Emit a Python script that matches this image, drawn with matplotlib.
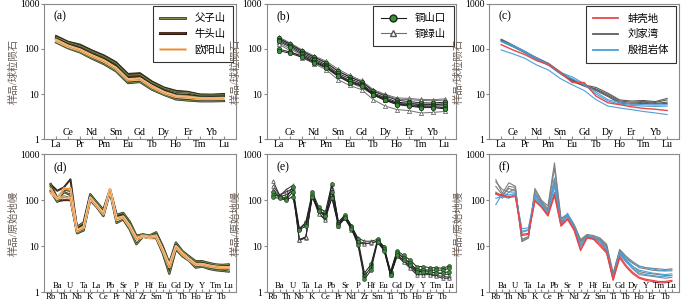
import matplotlib
matplotlib.use('Agg')
import matplotlib.pyplot as plt
import matplotlib.patheffects as pe
from matplotlib.lines import Line2D
from matplotlib.ticker import NullLocator

plt.rcParams['font.family'] = ['Liberation Serif', 'Noto Sans CJK SC']
plt.rcParams['axes.unicode_minus'] = False

ree = ['La', 'Ce', 'Pr', 'Nd', 'Pm', 'Sm', 'Eu', 'Gd', 'Tb', 'Dy', 'Ho', 'Er', 'Tm', 'Yb', 'Lu']
spider = ['Rb', 'Ba', 'Th', 'U', 'Nb', 'Ta', 'K', 'La', 'Ce', 'Pb', 'Pr', 'Sr', 'Nd', 'P',
          'Zr', 'Hf', 'Sm', 'Eu', 'Ti', 'Gd', 'Tb', 'Dy', 'Ho', 'Y', 'Er', 'Tm', 'Tb', 'Lu']

# (a) chondrite normalised REE
fzs_ree = [[185, 140, 118, 88, 68, 48, 26, 27, 18, 13.5, 11.2, 10.8, 9.5, 9.5, 9.6],
           [165, 122, 100, 75, 58, 40, 22, 23, 15.5, 11.5, 9.5, 9.2, 8.5, 8.4, 8.6],
           [140, 104, 84, 61, 46, 32, 17.5, 18.5, 12.5, 9.6, 7.6, 7.2, 6.9, 6.9, 7.0]]
nts_ree = [[195, 145, 125, 93, 72, 51, 28, 29, 19, 14, 11.8, 11.2, 9.8, 9.7, 10],
           [172, 128, 106, 79, 61, 43, 24, 25, 16.5, 12.2, 9.9, 9.6, 8.8, 8.7, 8.9],
           [150, 110, 90, 65, 49, 34, 18.5, 19.5, 13, 10, 8, 7.6, 7.1, 7.1, 7.3]]
oys_ree = [[160, 118, 97, 72, 55, 38, 21, 22, 15, 11, 9, 8.6, 8, 8, 8.1],
           [150, 112, 92, 68, 52, 36, 20, 21, 14, 10.5, 8.6, 8.2, 7.7, 7.7, 7.8]]

# (b)
tsk_ree = [[175, 128, 90, 66, 50, 32, 24, 18.5, 11.5, 9.0, 7.3, 6.8, 6.4, 6.3, 6.6],
           [160, 118, 82, 60, 45, 29, 22, 17, 10.5, 8.3, 6.6, 6.2, 5.8, 5.8, 6.0],
           [150, 110, 76, 56, 42, 27, 20, 16, 10, 7.8, 6.2, 5.8, 5.5, 5.4, 5.5],
           [100, 85, 70, 52, 40, 26, 19, 15.5, 9.8, 7.5, 6.0, 5.6, 5.2, 5.2, 5.0],
           [92, 80, 65, 50, 38, 25, 18, 15, 9.5, 7.2, 5.8, 5.4, 5.0, 5.0, 4.7]]
tls_ree = [[185, 135, 95, 70, 54, 36, 26, 20, 12.5, 9.8, 8.2, 8.0, 7.6, 7.5, 7.8],
           [170, 125, 88, 64, 49, 33, 24, 19, 12, 9.5, 7.7, 7.5, 7.2, 7.1, 7.3],
           [140, 100, 72, 52, 40, 25, 18, 14, 9.5, 7.3, 6.4, 6.2, 6.0, 5.9, 6.1],
           [130, 90, 64, 47, 35, 21, 15.5, 12.5, 7.5, 5.4, 4.5, 4.3, 3.8, 3.9, 4.1]]

# (c)
bkd_ree = [[125, 95, 75, 55, 45, 30, 18, 18, 9, 6.4, 5.8, 5.2, 4.8, 4.6, 4.3]]
ljw_ree = [[165, 122, 88, 64, 48, 31, 21, 16, 14, 10.5, 7.4, 7.0, 7.2, 6.8, 8.0],
           [160, 118, 86, 62, 46, 30, 20, 15.5, 13, 9.8, 7.0, 6.6, 6.8, 6.5, 7.4],
           [155, 115, 84, 60, 45, 29, 20, 16, 12.5, 9.2, 6.6, 6.2, 6.6, 6.2, 6.6],
           [150, 112, 82, 58, 44, 28, 19, 15, 12, 8.8, 6.3, 6.0, 6.2, 6.0, 6.2]]
yz_ree = [[150, 120, 90, 62, 46, 30, 24, 17, 11, 7.5, 6.5, 6.0, 5.8, 5.7, 5.8],
          [145, 112, 85, 58, 43, 28, 22, 16, 10, 7.0, 6.0, 5.6, 5.4, 5.3, 5.4],
          [95, 78, 62, 44, 34, 22, 16, 12, 7.5, 5.4, 4.9, 4.5, 4.1, 3.8, 3.5]]

# (d) primitive mantle normalised
fzs_sp = [[225, 110, 170, 160, 26, 33, 135, 90, 62, 175, 48, 53, 34, 17, 18, 17, 20, 10, 4.3, 12, 7.8, 6.0, 4.7, 4.7, 4.3, 4.0, 3.9, 4.0],
          [200, 100, 150, 130, 23, 28, 120, 80, 55, 160, 42, 46, 30, 15, 17, 16, 18, 9, 3.5, 10.5, 7.0, 5.4, 4.2, 4.2, 3.8, 3.6, 3.5, 3.5],
          [160, 92, 120, 110, 19, 22, 100, 70, 45, 150, 32, 38, 23, 11, 16, 15, 15, 7, 2.5, 8.5, 6.0, 4.8, 3.4, 3.6, 3.2, 3.0, 2.9, 2.8]]
nts_sp = [[220, 160, 190, 285, 24, 30, 125, 85, 58, 170, 45, 50, 31, 16, 18, 16, 19, 9.5, 4.0, 11.5, 7.5, 5.8, 4.5, 4.5, 4.2, 3.9, 3.8, 3.9],
          [150, 95, 100, 100, 20, 24, 110, 75, 50, 160, 38, 42, 27, 14, 16, 15, 16, 8, 3.2, 9.5, 6.6, 5.1, 3.8, 3.9, 3.5, 3.3, 3.2, 3.2]]
oys_sp = [[175, 105, 180, 180, 22, 26, 115, 78, 52, 175, 40, 44, 28, 15, 17, 16, 17, 8.5, 3.8, 10, 7.0, 5.3, 4.1, 4.1, 3.8, 3.6, 3.5, 3.5],
          [140, 110, 115, 110, 21, 25, 108, 74, 50, 165, 37, 42, 26, 14, 16, 15, 16, 8, 3.5, 9.5, 6.6, 5.0, 3.9, 3.9, 3.6, 3.4, 3.3, 3.3]]

# (e)
tsk_sp = [[150, 115, 110, 195, 24, 33, 150, 70, 55, 230, 33, 48, 28, 14, 2.6, 4.0, 14, 9.5, 2.8, 8, 6.3, 5.0, 3.6, 3.6, 3.4, 3.4, 3.3, 3.7],
          [130, 120, 105, 150, 24, 30, 130, 62, 48, 150, 30, 44, 26, 12, 2.2, 3.5, 13, 8.5, 2.5, 7, 5.5, 4.2, 3.0, 3.1, 3.0, 3.0, 3.0, 3.3],
          [115, 110, 100, 120, 23, 27, 115, 58, 45, 110, 28, 40, 24, 10.5, 1.9, 3.0, 12, 8, 2.3, 6.3, 5.0, 3.8, 2.8, 2.8, 2.7, 2.6, 2.6, 2.8]]
tls_sp = [[260, 125, 170, 210, 14, 16, 140, 60, 42, 220, 33, 46, 27, 15, 12.8, 12.8, 14, 9.8, 2.7, 7.5, 5.5, 4.3, 3.0, 3.0, 2.8, 2.6, 2.5, 2.4],
          [200, 130, 150, 180, 13.5, 15, 130, 52, 38, 180, 30, 42, 25, 13, 11.5, 11.5, 13, 9, 2.5, 6.5, 4.8, 3.6, 2.6, 2.6, 2.5, 2.3, 2.2, 2.1],
          [170, 120, 130, 160, 13.5, 15.5, 120, 50, 37, 120, 28, 40, 23, 12, 11, 12, 12.5, 8.5, 2.3, 6, 4.5, 3.3, 2.4, 2.4, 2.4, 2.2, 2.0, 2.0]]

# (f)
bkd_sp = [[140, 130, 120, 125, 17, 18, 95, 70, 45, 125, 27, 38, 22, 8, 15, 14, 10, 7, 1.8, 5.5, 3.5, 2.5, 2.0, 1.8, 1.7, 1.6, 1.6, 1.7],
          [135, 125, 115, 120, 18, 19, 100, 72, 47, 140, 29, 40, 24, 8.5, 15.5, 14.5, 11, 7.5, 1.9, 6, 3.8, 2.7, 2.1, 1.9, 1.8, 1.7, 1.7, 1.8]]
ljw_sp = [[280, 140, 240, 200, 13, 15, 180, 100, 75, 650, 40, 50, 30, 14, 18, 17, 15, 11, 2.6, 8.5, 6, 4.6, 3.7, 3.4, 3.3, 3.2, 3.1, 3.2],
          [250, 170, 150, 180, 14, 16, 160, 95, 65, 500, 38, 48, 29, 13, 17, 16, 14, 10, 2.4, 8, 5.6, 4.3, 3.4, 3.2, 3.0, 2.9, 2.9, 2.9],
          [200, 130, 180, 160, 12.5, 15, 140, 90, 60, 300, 35, 45, 28, 13, 17, 16, 14, 10, 2.3, 7.5, 5.0, 3.6, 2.8, 2.6, 2.5, 2.4, 2.3, 2.3],
          [150, 120, 200, 190, 14, 16, 130, 85, 55, 250, 33, 44, 26, 12, 16, 15, 13, 9.5, 2.2, 7, 4.6, 3.2, 2.4, 2.3, 2.2, 2.1, 2.0, 2.1]]
yz_sp = [[80, 140, 130, 140, 24, 25, 130, 85, 52, 300, 30, 52, 28, 11, 16, 16, 13, 8.5, 2.0, 7.5, 5.3, 4.2, 3.6, 3.4, 3.2, 3.0, 2.9, 3.1],
         [140, 110, 150, 150, 21, 23, 115, 80, 48, 200, 29, 48, 27, 10, 16, 15, 13, 8, 2.0, 6.8, 4.8, 3.6, 3.0, 2.8, 2.6, 2.5, 2.4, 2.5],
         [110, 120, 110, 140, 20, 22, 110, 78, 47, 150, 30, 46, 26, 10, 15, 15, 12, 8, 1.9, 6.5, 4.5, 3.3, 2.6, 2.4, 2.3, 2.2, 2.2, 2.3]]

names_a = ['父子山', '牛头山', '欧阳山']
names_b = ['铜山口', '铜绿山']
names_c = ['蚌壳地', '刘家湾', '殷祖岩体']

GREY_TXT = '#6b5e55'
SPINE = '#8a8a8a'

# line styles (outline colour, inner colour)
fzs_style = ('#2b2e1c', '#7a8c48')
nts_style = ('#2a1a10', '#5a3a26')
oys_style = ('#f9d2ae', '#ee8a2e')
red, grey, blue = '#e8474a', '#5e5e5e', '#4a9fd8'


def setup(ax, labels, ylabel, tag, fs):
    n = len(labels)
    ax.set_yscale('log')
    ax.set_ylim(1, 1000)
    ax.set_xlim(-1, n + 0.1 if n > 20 else n)
    ax.set_yticks([1, 10, 100, 1000])
    ax.set_yticklabels(['1', '10', '100', '1000'])
    ax.yaxis.set_minor_locator(NullLocator())
    ax.set_xticks(range(n))
    ax.set_xticklabels([lab if i % 2 == 0 else '' for i, lab in enumerate(labels)])
    for i, lab in enumerate(labels):
        if i % 2 == 1:
            ax.text(i, 0.012, lab, transform=ax.get_xaxis_transform(),
                    ha='center', va='bottom', fontsize=fs)
    ax.tick_params(axis='x', direction='in', length=2, pad=1, labelsize=fs, color=SPINE)
    ax.tick_params(axis='y', direction='out', length=2.5, pad=1, labelsize=7, color=SPINE)
    for s in ax.spines.values():
        s.set_color(SPINE)
        s.set_linewidth(0.8)
    ax.set_ylabel(ylabel, color=GREY_TXT, fontsize=7.5, labelpad=1)
    ax.text(0.05, 0.95, tag, transform=ax.transAxes, va='top', ha='left', fontsize=8.5)


def outlined(ax, x, rows, style, lw=0.7):
    for r in rows:
        ax.plot(x, r, color=style[1], lw=lw,
                path_effects=[pe.Stroke(linewidth=lw + 0.9, foreground=style[0]), pe.Normal()])


def outlined_handle(style, lw=1.0):
    return Line2D([], [], color=style[1], lw=lw,
                  path_effects=[pe.Stroke(linewidth=lw + 1.0, foreground=style[0]), pe.Normal()])


fig = plt.figure(figsize=(7, 3.03), dpi=100)
ax_a = fig.add_axes([0.063, 0.541, 0.274, 0.446])
ax_b = fig.add_axes([0.381, 0.541, 0.271, 0.446])
ax_c = fig.add_axes([0.699, 0.541, 0.271, 0.446])
ax_d = fig.add_axes([0.063, 0.036, 0.274, 0.455])
ax_e = fig.add_axes([0.381, 0.036, 0.271, 0.455])
ax_f = fig.add_axes([0.699, 0.036, 0.271, 0.455])

xr = list(range(len(ree)))
xs = list(range(len(spider)))

leg_kw = dict(loc='upper right', bbox_to_anchor=(0.985, 0.985), borderaxespad=0,
              fontsize=7.5, frameon=True, fancybox=False, edgecolor='black',
              handlelength=2.4, labelspacing=0.55, borderpad=0.7, handletextpad=0.9)

# (a)
outlined(ax_a, xr, nts_ree, nts_style, lw=0.5)
outlined(ax_a, xr, fzs_ree, fzs_style)
outlined(ax_a, xr, oys_ree, oys_style)
setup(ax_a, ree, '样品/球粒陨石', '(a)', 7)
leg = ax_a.legend([outlined_handle(fzs_style), outlined_handle(nts_style, 1.2), outlined_handle(oys_style)],
                  names_a, **leg_kw)
leg.get_frame().set_linewidth(0.8)

# (b)
for r in tls_ree:
    ax_b.plot(xr, r, color='#6f6f6f', lw=0.7, marker='^', ms=3, mfc='white', mec='#555555', mew=0.5)
for r in tsk_ree:
    ax_b.plot(xr, r, color='#1e1e1e', lw=0.7, marker='o', ms=3.2, mfc='#3f8c3f', mec='#163016', mew=0.5)
setup(ax_b, ree, '样品/球粒陨石', '(b)', 7)
hb = [Line2D([], [], color='#1e1e1e', lw=0.8, marker='o', ms=5, mfc='#3f8c3f', mec='#163016'),
      Line2D([], [], color='#6f6f6f', lw=0.8, marker='^', ms=4.5, mfc='white', mec='#555555')]
leg = ax_b.legend(hb, names_b, **leg_kw)
leg.get_frame().set_linewidth(0.8)

# (c)
for r in ljw_ree:
    ax_c.plot(xr, r, color=grey, lw=0.8)
for r in yz_ree:
    ax_c.plot(xr, r, color=blue, lw=0.8)
for r in bkd_ree:
    ax_c.plot(xr, r, color=red, lw=1.0)
setup(ax_c, ree, '样品/球粒陨石', '(c)', 7)
hc = [Line2D([], [], color=red, lw=1.3), Line2D([], [], color=grey, lw=1.3),
      Line2D([], [], color=blue, lw=1.3)]
leg = ax_c.legend(hc, names_c, **leg_kw)
leg.get_frame().set_linewidth(0.8)

# (d)
outlined(ax_d, xs, nts_sp, nts_style, lw=0.5)
outlined(ax_d, xs, fzs_sp, fzs_style)
outlined(ax_d, xs, oys_sp, oys_style)
setup(ax_d, spider, '样品/原始地幔', '(d)', 6.3)

# (e)
for r in tls_sp:
    ax_e.plot(xs, r, color='#2a2a2a', lw=0.7, marker='^', ms=2.6, mfc='#dddddd', mec='#333333', mew=0.4)
for r in tsk_sp:
    ax_e.plot(xs, r, color='#1e1e1e', lw=0.7, marker='o', ms=2.8, mfc='#3f8c3f', mec='#163016', mew=0.4)
setup(ax_e, spider, '样品/原始地幔', '(e)', 6.3)

# (f)
for r in ljw_sp:
    ax_f.plot(xs, r, color='#808080', lw=0.8)
for r in yz_sp:
    ax_f.plot(xs, r, color=blue, lw=0.8)
for r in bkd_sp:
    ax_f.plot(xs, r, color=red, lw=0.9)
setup(ax_f, spider, '样品/原始地幔', '(f)', 6.3)

fig.savefig('out.png', dpi=100)
